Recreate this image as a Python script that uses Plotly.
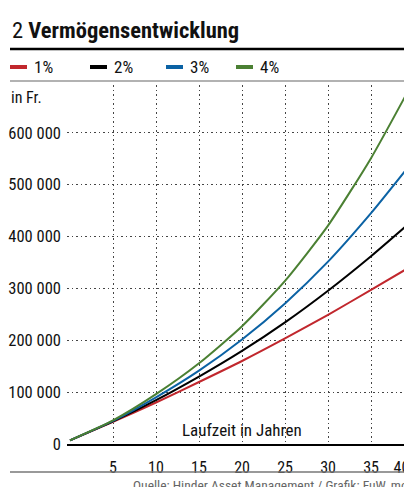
import plotly.graph_objects as go

# ---- data ----
laufzeit_pos = [0, 5, 10, 15, 20, 25, 30, 35, 39]
series_names = ["1%", "2%", "3%", "4%"]
werte_1 = [7000, 42500, 80000, 119500, 160000, 203500, 249000, 297000, 336000]
werte_2 = [7000, 43500, 84500, 130000, 179500, 234500, 295500, 362000, 419000]
werte_3 = [7000, 44500, 90000, 141500, 201500, 271000, 351500, 445000, 527000]
werte_4 = [7100, 45500, 96000, 155500, 227000, 314500, 421000, 551000, 671000]
x_tickvals = [5, 10, 15, 20, 25, 30, 35, 39]
x_ticktext = ["5", "10", "15", "20", "25", "30", "35",
              "40<span style='color:rgba(0,0,0,0)'>0</span>"]
y_tickvals = [0, 100000, 200000, 300000, 400000, 500000, 600000]

colors = ["#c1272d", "#000000", "#0b62a4", "#4b8033"]
FONT = "Roboto Condensed, Roboto, sans-serif"
GRID = dict(color="#444", width=1.2, dash="1.5px,3px")

OFF = 8  # page body margin
W, H = 412 - OFF, 487 - OFF
L, R, T, B = 67 - OFF, 408 - OFF, 85 - OFF, 444 - OFF


def px(x):
    return (x - OFF - L) / (R - L)


def py(y):
    return (B - (y - OFF)) / (B - T)


fig = go.Figure()
for name, vals, c in zip(series_names, [werte_1, werte_2, werte_3, werte_4], colors):
    fig.add_trace(go.Scatter(x=laufzeit_pos, y=vals, mode="lines", name=name,
                             line=dict(color=c, width=2, shape="spline", smoothing=0.6),
                             showlegend=False, hoverinfo="skip"))

fig.update_layout(
    width=W, height=H,
    margin=dict(l=L, r=W - R, t=T, b=H - B, autoexpand=False),
    paper_bgcolor="white", plot_bgcolor="white",
    font=dict(family=FONT, size=16, color="#111"),
    separators=", ",
)
fig.update_xaxes(range=[-0.35, 39.3], tickvals=x_tickvals, ticktext=x_ticktext,
                 showgrid=True, gridcolor=GRID["color"], griddash=GRID["dash"],
                 gridwidth=GRID["width"],
                 showline=True, linecolor="#000", linewidth=1.6, ticks="",
                 zeroline=False, ticklabelstandoff=8, tickfont=dict(size=16),
                 ticklabeloverflow="allow", automargin=False)
fig.update_yaxes(range=[0, 692000], tickvals=y_tickvals, tickformat=",d",
                 showgrid=True, gridcolor=GRID["color"], griddash=GRID["dash"],
                 gridwidth=GRID["width"],
                 showline=False, zeroline=False, ticks="", ticklabelstandoff=5,
                 tickfont=dict(size=16.5), automargin=False)

shapes = [
    # right-edge grid line at the last tick
    dict(type="line", xref="x", yref="paper", x0=x_tickvals[-1], x1=x_tickvals[-1],
         y0=0, y1=1, line=GRID, layer="below"),
    dict(type="line", xref="paper", yref="paper", x0=px(10), x1=px(410), y0=py(49), y1=py(49),
         line=dict(color="#000", width=2.5)),
    dict(type="line", xref="paper", yref="paper", x0=px(10), x1=px(410), y0=py(81), y1=py(81),
         line=dict(color="#666", width=1.2)),
    dict(type="line", xref="paper", yref="paper", x0=px(10), x1=px(410), y0=py(472), y1=py(472),
         line=dict(color="#777", width=1.5)),
]
annotations = [
    dict(xref="paper", yref="paper", x=px(10), y=py(30), xanchor="left", yanchor="middle",
         text="2 <b>Vermögensentwicklung</b>", showarrow=False,
         font=dict(size=22.5, color="#111")),
    dict(xref="paper", yref="paper", x=px(9), y=py(97), xanchor="left", yanchor="middle",
         text="in Fr.", showarrow=False, font=dict(size=16)),
    dict(xref="x", yref="y", x=20, y=0, xanchor="center", yanchor="bottom", yshift=2,
         text="Laufzeit in Jahren", showarrow=False, font=dict(size=17)),
    dict(xref="paper", yref="paper", x=px(410), y=py(475), xanchor="right", yanchor="top",
         text="Quelle: Hinder Asset Management / Grafik: FuW, mo", showarrow=False,
         font=dict(size=13.5, color="#666")),
]
leg_x = [10, 90, 166, 236]
for name, c, lx in zip(series_names, colors, leg_x):
    shapes.append(dict(type="line", xref="paper", yref="paper", x0=px(lx), x1=px(lx + 17),
                       y0=py(67), y1=py(67), line=dict(color=c, width=4)))
    annotations.append(dict(xref="paper", yref="paper", x=px(lx + 22), y=py(67), xanchor="left",
                            yanchor="middle", text=name, showarrow=False,
                            font=dict(size=17)))

fig.update_layout(shapes=shapes, annotations=annotations)
fig.write_html("out.html")
